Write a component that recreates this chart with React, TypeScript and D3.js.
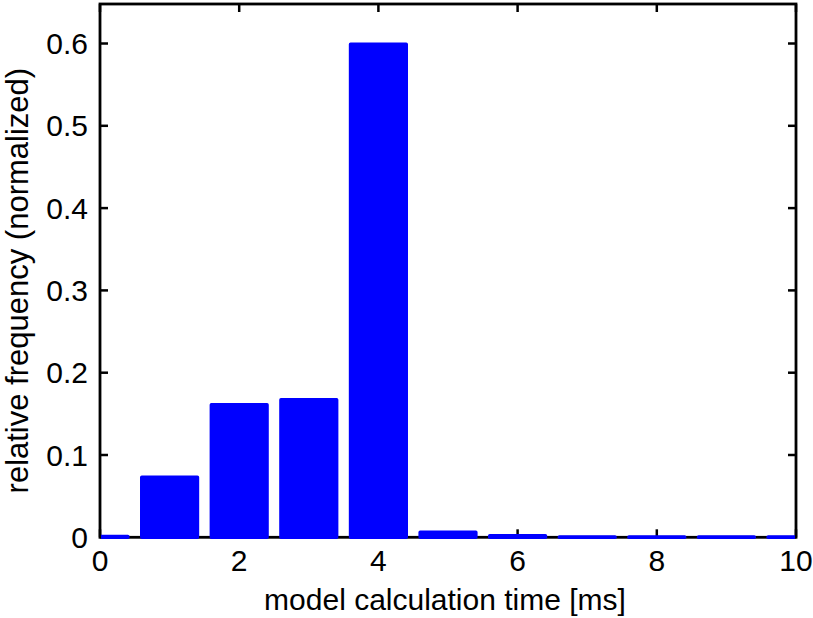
import React from "react";
import * as d3 from "d3";

const centers = [0, 1, 2, 3, 4, 5, 6, 7, 8, 9, 10];
const values = [0.001, 0.073, 0.161, 0.167, 0.599, 0.006, 0.002, 0.0005, 0.0005, 0.0005, 0.0005];
const xTicks = [0, 2, 4, 6, 8, 10];
const yTicks = [0, 0.1, 0.2, 0.3, 0.4, 0.5, 0.6];
const xLabel = "model calculation time [ms]";
const yLabel = "relative frequency (normalized)";

const W = 813, H = 618;
const L = 100, R = 796, T = 4, B = 537.3;
const BAR_W = 0.8;
const FONT = "'Liberation Sans', Arial, Helvetica, sans-serif";
const FS = 30;

export default function App() {
  const x = d3.scaleLinear().domain([0, 10]).range([L, R]);
  const y = d3.scaleLinear().domain([0, 0.648]).range([B, T]);
  const tick = 8;
  return (
    <svg width={W} height={H} style={{ position: "absolute", left: 0, top: 0, background: "#fff" }}>
      <defs>
        <clipPath id="plot">
          <rect x={L + 1} y={T} width={R - L - 2} height={B - T + 3} />
        </clipPath>
      </defs>
      <rect x={0} y={0} width={W} height={H} fill="#fff" />
      <rect x={L} y={T} width={R - L} height={B - T} fill="none" stroke="#000" strokeWidth={2.8} />
      {xTicks.map((t) => (
        <g key={"x" + t}>
          <line x1={x(t)} x2={x(t)} y1={B} y2={B - tick} stroke="#000" strokeWidth={2.5} />
          <line x1={x(t)} x2={x(t)} y1={T} y2={T + tick} stroke="#000" strokeWidth={2.5} />
          <text x={x(t)} y={571} textAnchor="middle" fontFamily={FONT} fontSize={FS} fill="#000">
            {t}
          </text>
        </g>
      ))}
      {yTicks.map((t) => (
        <g key={"y" + t}>
          <line x1={L} x2={L + tick} y1={y(t)} y2={y(t)} stroke="#000" strokeWidth={2.5} />
          <line x1={R} x2={R - tick} y1={y(t)} y2={y(t)} stroke="#000" strokeWidth={2.5} />
          <text x={88} y={y(t) + 10.5} textAnchor="end" fontFamily={FONT} fontSize={FS} fill="#000">
            {t === 0 ? "0" : String(t)}
          </text>
        </g>
      ))}
      <g clipPath="url(#plot)">
        {centers.map((c, i) => (
          <rect
            key={c}
            x={x(c - BAR_W / 2)}
            y={y(values[i])}
            width={x(c + BAR_W / 2) - x(c - BAR_W / 2)}
            height={y(0) - y(values[i])}
            fill="#0000ff"
            stroke="#0000ff"
            strokeWidth={3.5}
            strokeLinejoin="round"
          />
        ))}
      </g>
      <text x={(L + R) / 2 - 3} y={610} textAnchor="middle" fontFamily={FONT} fontSize={FS} fill="#000">
        {xLabel}
      </text>
      <text
        transform={`translate(27.5,${(T + B) / 2 + 10}) rotate(-90)`}
        textAnchor="middle"
        fontFamily={FONT}
        fontSize={31}
        fill="#000"
      >
        {yLabel}
      </text>
    </svg>
  );
}
